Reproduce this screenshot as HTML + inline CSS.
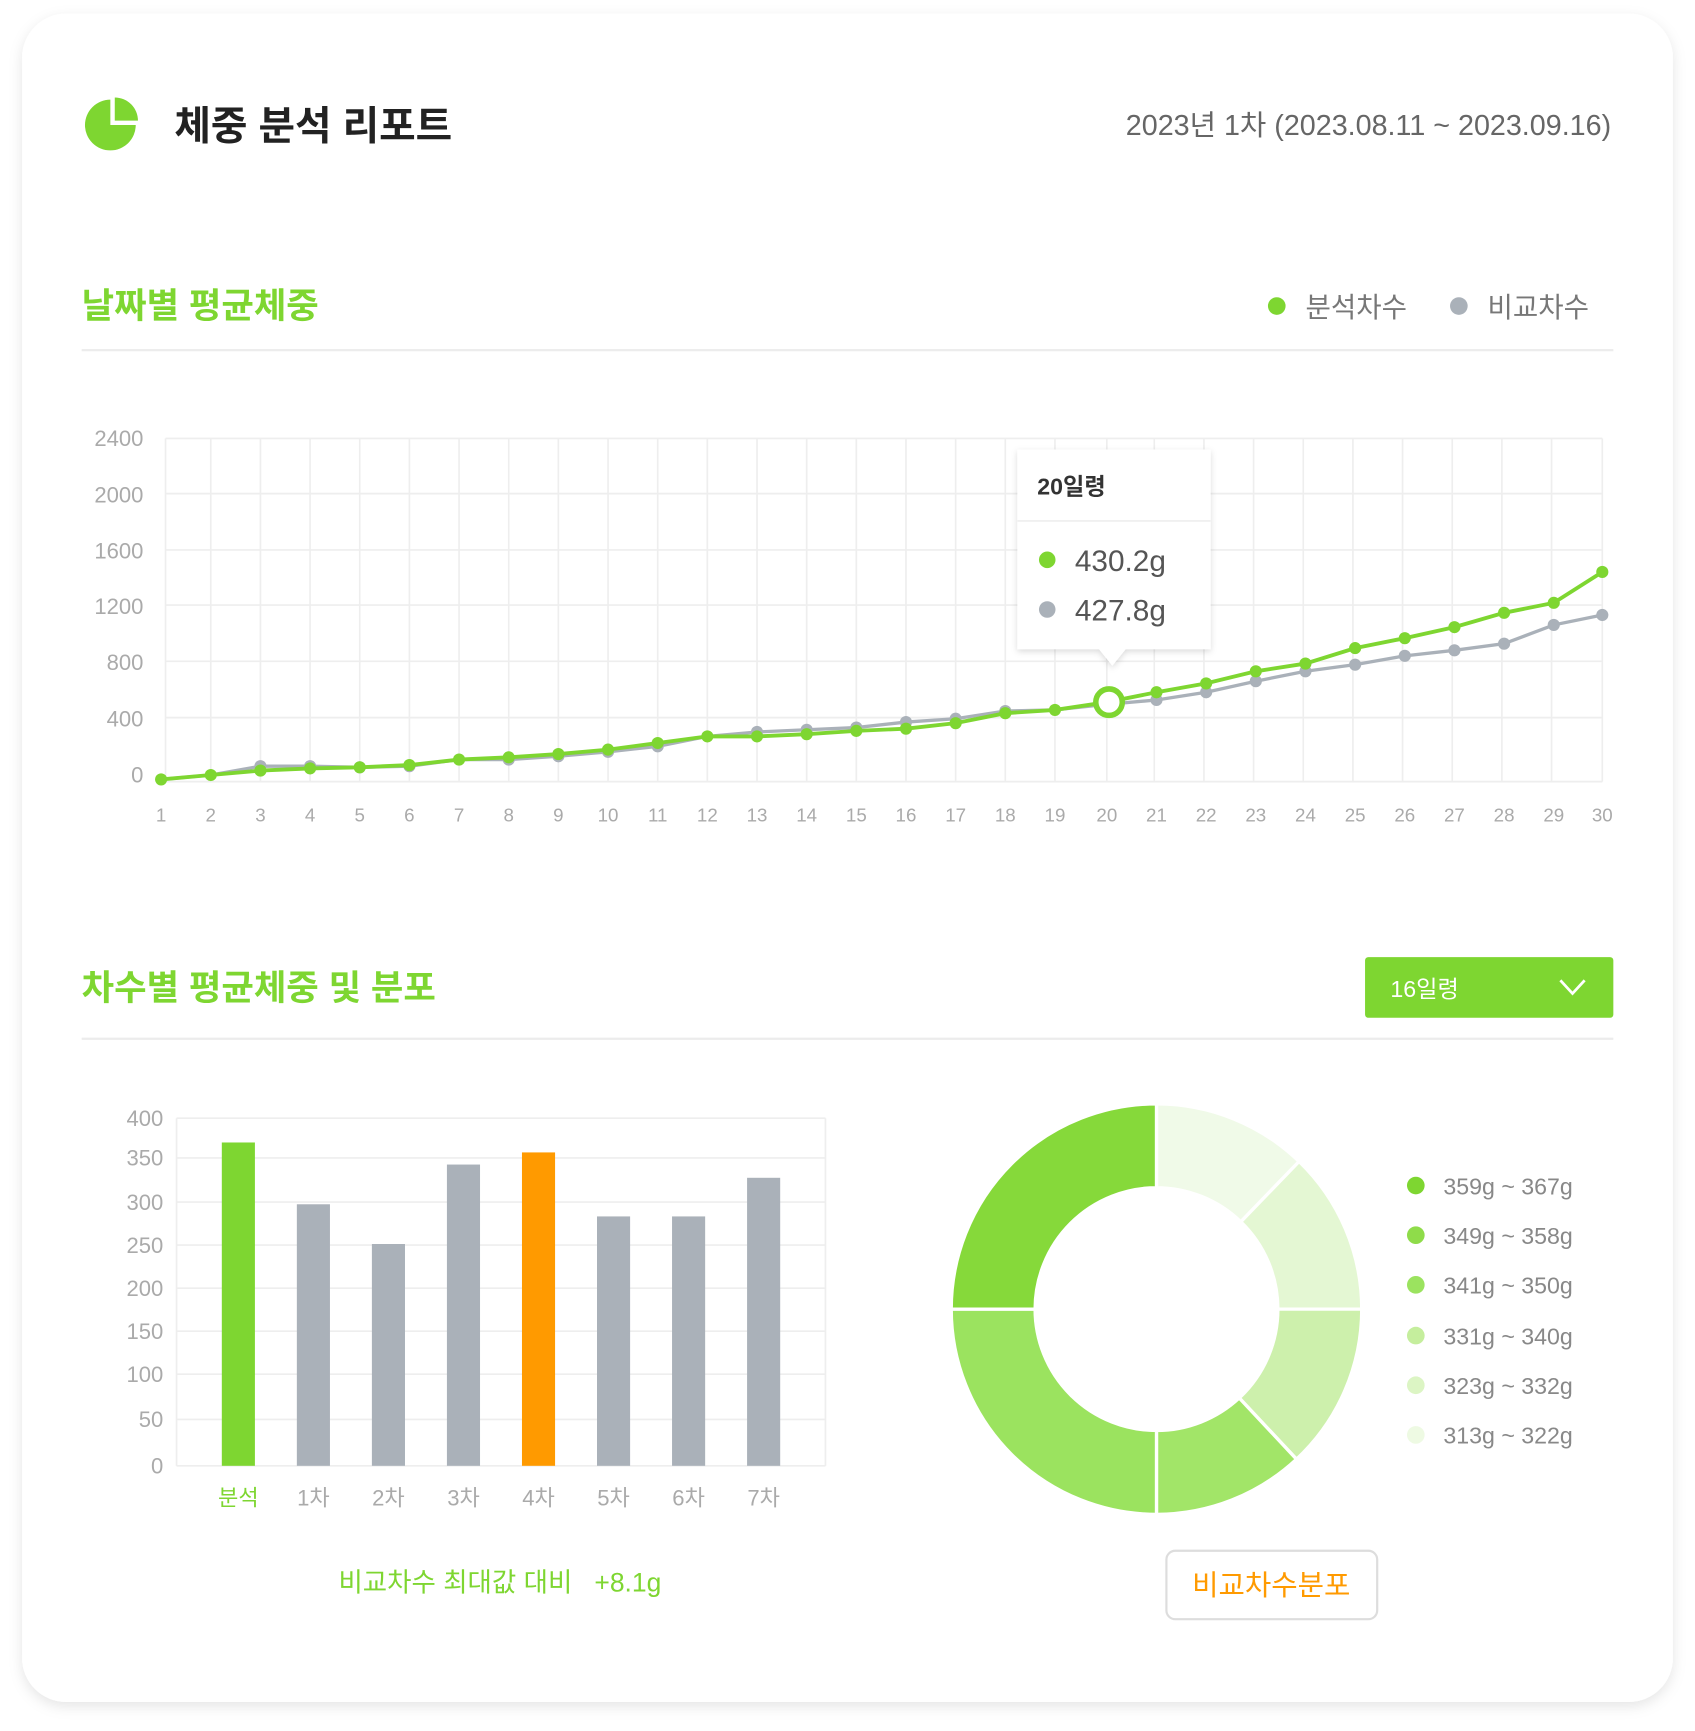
<!DOCTYPE html>
<html><head><meta charset="utf-8">
<style>
html,body{margin:0;padding:0;background:#fff;}
svg{display:block;}
text{font-family:"Liberation Sans","Noto Sans CJK KR",sans-serif;}
</style></head>
<body>
<svg width="1695" height="1731" viewBox="0 0 1536 1568" xmlns="http://www.w3.org/2000/svg">
<defs>
<filter id="sh" x="-5%" y="-5%" width="110%" height="110%"><feDropShadow dx="0" dy="4" stdDeviation="6" flood-color="#000" flood-opacity="0.10"/></filter>
<filter id="sh2" x="-20%" y="-20%" width="140%" height="140%"><feDropShadow dx="0" dy="2" stdDeviation="3" flood-color="#000" flood-opacity="0.15"/></filter>
</defs>
<rect x="20" y="12" width="1496" height="1530" rx="40" fill="#fff" filter="url(#sh)"/>

<!-- header -->
<path d="M100 113 L100 90 A23 23 0 1 0 123 113 Z" fill="#7ed631"/>
<path d="M104 88 L104 109 L125 109 A21 21 0 0 0 104 88 Z" fill="#7ed631"/>
<text x="158" y="126" font-size="36" font-weight="bold" fill="#222">체중 분석 리포트</text>
<text x="1460" y="122" font-size="26" fill="#666" text-anchor="end">2023년 1차 (2023.08.11 ~ 2023.09.16)</text>

<!-- section 1 -->
<text x="74" y="288" font-size="32" font-weight="bold" fill="#7ed631">날짜별 평균체중</text>
<circle cx="1157" cy="277" r="8" fill="#7ed631"/>
<text x="1183" y="287" font-size="25" fill="#777">분석차수</text>
<circle cx="1322" cy="277" r="8" fill="#aab1b9"/>
<text x="1348" y="287" font-size="25" fill="#777">비교차수</text>
<rect x="74" y="316" width="1388" height="2" fill="#ececec"/>

<g stroke="#eeeeee" stroke-width="1.5">
<line x1="150" y1="397" x2="1452" y2="397"/><line x1="150" y1="447" x2="1452" y2="447"/>
<line x1="150" y1="498" x2="1452" y2="498"/><line x1="150" y1="548" x2="1452" y2="548"/>
<line x1="150" y1="599" x2="1452" y2="599"/><line x1="150" y1="650" x2="1452" y2="650"/>
<line x1="150" y1="708" x2="1452" y2="708"/>
<line x1="150" y1="397" x2="150" y2="708"/>
<line x1="191" y1="397" x2="191" y2="708"/><line x1="236" y1="397" x2="236" y2="708"/><line x1="281" y1="397" x2="281" y2="708"/><line x1="326" y1="397" x2="326" y2="708"/><line x1="371" y1="397" x2="371" y2="708"/><line x1="416" y1="397" x2="416" y2="708"/><line x1="461" y1="397" x2="461" y2="708"/><line x1="506" y1="397" x2="506" y2="708"/><line x1="551" y1="397" x2="551" y2="708"/><line x1="596" y1="397" x2="596" y2="708"/><line x1="641" y1="397" x2="641" y2="708"/><line x1="686" y1="397" x2="686" y2="708"/><line x1="731" y1="397" x2="731" y2="708"/><line x1="776" y1="397" x2="776" y2="708"/><line x1="821" y1="397" x2="821" y2="708"/><line x1="866" y1="397" x2="866" y2="708"/><line x1="911" y1="397" x2="911" y2="708"/><line x1="956" y1="397" x2="956" y2="708"/><line x1="1003" y1="397" x2="1003" y2="708"/><line x1="1046" y1="397" x2="1046" y2="708"/><line x1="1091" y1="397" x2="1091" y2="708"/><line x1="1136" y1="397" x2="1136" y2="708"/><line x1="1181" y1="397" x2="1181" y2="708"/><line x1="1226" y1="397" x2="1226" y2="708"/><line x1="1271" y1="397" x2="1271" y2="708"/><line x1="1316" y1="397" x2="1316" y2="708"/><line x1="1361" y1="397" x2="1361" y2="708"/><line x1="1406" y1="397" x2="1406" y2="708"/><line x1="1452" y1="397" x2="1452" y2="708"/>
</g>
<g font-size="20" fill="#aaa" text-anchor="end">
<text x="130" y="404">2400</text><text x="130" y="455">2000</text><text x="130" y="506">1600</text><text x="130" y="556">1200</text><text x="130" y="607">800</text><text x="130" y="658">400</text><text x="130" y="709">0</text>
</g>
<g font-size="17" fill="#aaa" text-anchor="middle">
<text x="146" y="744">1</text><text x="191" y="744">2</text><text x="236" y="744">3</text><text x="281" y="744">4</text><text x="326" y="744">5</text><text x="371" y="744">6</text><text x="416" y="744">7</text><text x="461" y="744">8</text><text x="506" y="744">9</text><text x="551" y="744">10</text><text x="596" y="744">11</text><text x="641" y="744">12</text><text x="686" y="744">13</text><text x="731" y="744">14</text><text x="776" y="744">15</text><text x="821" y="744">16</text><text x="866" y="744">17</text><text x="911" y="744">18</text><text x="956" y="744">19</text><text x="1003" y="744">20</text><text x="1048" y="744">21</text><text x="1093" y="744">22</text><text x="1138" y="744">23</text><text x="1183" y="744">24</text><text x="1228" y="744">25</text><text x="1273" y="744">26</text><text x="1318" y="744">27</text><text x="1363" y="744">28</text><text x="1408" y="744">29</text><text x="1452" y="744">30</text>
</g>

<!-- gray series -->
<g fill="#aab1b9">
<polyline fill="none" stroke="#aab1b9" stroke-width="3" points="146,706 191,702 236,694 281,694 326,695 371,694 416,688 461,688 506,685 551,681 596,676 641,667 686,663 731,661 776,659 821,654 866,651 911,644 956,643 1003,638 1048,634 1093,627 1138,617 1183,608 1228,602 1273,594 1318,589 1363,583 1408,566 1452,557"/>
<circle cx="236" cy="694" r="5.5"/><circle cx="281" cy="694" r="5.5"/><circle cx="326" cy="695" r="5.5"/><circle cx="371" cy="694" r="5.5"/><circle cx="461" cy="688" r="5.5"/><circle cx="506" cy="685" r="5.5"/><circle cx="551" cy="681" r="5.5"/><circle cx="596" cy="676" r="5.5"/><circle cx="686" cy="663" r="5.5"/><circle cx="731" cy="661" r="5.5"/><circle cx="776" cy="659" r="5.5"/><circle cx="821" cy="654" r="5.5"/><circle cx="866" cy="651" r="5.5"/><circle cx="911" cy="644" r="5.5"/><circle cx="1048" cy="634" r="5.5"/><circle cx="1093" cy="627" r="5.5"/><circle cx="1138" cy="617" r="5.5"/><circle cx="1183" cy="608" r="5.5"/><circle cx="1228" cy="602" r="5.5"/><circle cx="1273" cy="594" r="5.5"/><circle cx="1318" cy="589" r="5.5"/><circle cx="1363" cy="583" r="5.5"/><circle cx="1408" cy="566" r="5.5"/><circle cx="1452" cy="557" r="5.5"/>
</g>
<!-- green series -->
<g fill="#7ed631">
<polyline fill="none" stroke="#7ed631" stroke-width="3.5" points="146,706 191,702 236,698 281,696 326,695 371,693 416,688 461,686 506,683 551,679 596,673 641,667 686,667 731,665 776,662 821,660 866,655 911,646 956,643 1003,636 1048,627 1093,619 1138,608 1183,601 1228,587 1273,578 1318,568 1363,555 1408,546 1452,518"/>
<circle cx="146" cy="706" r="5.5"/><circle cx="191" cy="702" r="5.5"/><circle cx="236" cy="698" r="5.5"/><circle cx="281" cy="696" r="5.5"/><circle cx="326" cy="695" r="5.5"/><circle cx="371" cy="693" r="5.5"/><circle cx="416" cy="688" r="5.5"/><circle cx="461" cy="686" r="5.5"/><circle cx="506" cy="683" r="5.5"/><circle cx="551" cy="679" r="5.5"/><circle cx="596" cy="673" r="5.5"/><circle cx="641" cy="667" r="5.5"/><circle cx="686" cy="667" r="5.5"/><circle cx="731" cy="665" r="5.5"/><circle cx="776" cy="662" r="5.5"/><circle cx="821" cy="660" r="5.5"/><circle cx="866" cy="655" r="5.5"/><circle cx="911" cy="646" r="5.5"/><circle cx="956" cy="643" r="5.5"/><circle cx="1048" cy="627" r="5.5"/><circle cx="1093" cy="619" r="5.5"/><circle cx="1138" cy="608" r="5.5"/><circle cx="1183" cy="601" r="5.5"/><circle cx="1228" cy="587" r="5.5"/><circle cx="1273" cy="578" r="5.5"/><circle cx="1318" cy="568" r="5.5"/><circle cx="1363" cy="555" r="5.5"/><circle cx="1408" cy="546" r="5.5"/><circle cx="1452" cy="518" r="5.5"/>
</g>
<circle cx="1005" cy="636" r="12" fill="#fff" stroke="#7ed631" stroke-width="5"/>

<!-- tooltip -->
<g filter="url(#sh2)">
<path d="M922 407 H1097 V588 H1020 L1008 603 L996 588 H922 Z" fill="#fff"/>
</g>
<rect x="922" y="471" width="175" height="1.5" fill="#eee"/>
<text x="940" y="448" font-size="21" font-weight="bold" fill="#333">20일령</text>
<circle cx="949" cy="507" r="7.5" fill="#7ed631"/>
<text x="974" y="517" font-size="27" fill="#555">430.2g</text>
<circle cx="949" cy="552" r="7.5" fill="#aab1b9"/>
<text x="974" y="562" font-size="27" fill="#555">427.8g</text>

<!-- section 2 -->
<text x="74" y="906" font-size="32" font-weight="bold" fill="#7ed631">차수별 평균체중 및 분포</text>
<rect x="1237" y="867" width="225" height="55" rx="3" fill="#7ed631"/>
<text x="1260" y="903" font-size="21" fill="#fff">16일령</text>
<polyline points="1414,888 1425,900 1436,888" fill="none" stroke="#fff" stroke-width="2.5"/>
<rect x="74" y="940" width="1388" height="2" fill="#ececec"/>

<!-- bar chart -->
<g stroke="#eeeeee" stroke-width="1.5">
<line x1="160" y1="1013" x2="748" y2="1013"/><line x1="160" y1="1049" x2="748" y2="1049"/><line x1="160" y1="1089" x2="748" y2="1089"/><line x1="160" y1="1128" x2="748" y2="1128"/><line x1="160" y1="1167" x2="748" y2="1167"/><line x1="160" y1="1206" x2="748" y2="1206"/><line x1="160" y1="1245" x2="748" y2="1245"/><line x1="160" y1="1286" x2="748" y2="1286"/><line x1="160" y1="1328" x2="748" y2="1328"/>
<line x1="160" y1="1013" x2="160" y2="1328"/><line x1="748" y1="1013" x2="748" y2="1328"/>
</g>
<g font-size="20" fill="#aaa" text-anchor="end">
<text x="148" y="1020">400</text><text x="148" y="1056">350</text><text x="148" y="1096">300</text><text x="148" y="1135">250</text><text x="148" y="1174">200</text><text x="148" y="1213">150</text><text x="148" y="1252">100</text><text x="148" y="1293">50</text><text x="148" y="1335">0</text>
</g>
<rect x="201" y="1035" width="30" height="293" fill="#7ed631"/>
<rect x="269" y="1091" width="30" height="237" fill="#aab1b9"/>
<rect x="337" y="1127" width="30" height="201" fill="#aab1b9"/>
<rect x="405" y="1055" width="30" height="273" fill="#aab1b9"/>
<rect x="473" y="1044" width="30" height="284" fill="#ff9a00"/>
<rect x="541" y="1102" width="30" height="226" fill="#aab1b9"/>
<rect x="609" y="1102" width="30" height="226" fill="#aab1b9"/>
<rect x="677" y="1067" width="30" height="261" fill="#aab1b9"/>
<g font-size="20" fill="#aaa" text-anchor="middle">
<text x="216" y="1364" fill="#7ed631">분석</text><text x="284" y="1364">1차</text><text x="352" y="1364">2차</text><text x="420" y="1364">3차</text><text x="488" y="1364">4차</text><text x="556" y="1364">5차</text><text x="624" y="1364">6차</text><text x="692" y="1364">7차</text>
</g>
<text x="453" y="1442" font-size="24" fill="#7ed631" text-anchor="middle" xml:space="preserve">비교차수 최대값 대비   +8.1g</text>

<!-- donut -->
<g stroke="#fff" stroke-width="3">
<path d="M1048 1000 A186 186 0 0 1 1177.2 1052.2 L1124.4 1106.9 A110 110 0 0 0 1048 1076 Z" fill="#f0fae8"/>
<path d="M1177.2 1052.2 A186 186 0 0 1 1234 1186 L1158 1186 A110 110 0 0 0 1124.4 1106.9 Z" fill="#e4f7d3"/>
<path d="M1234 1186 A186 186 0 0 1 1174.9 1322 L1123 1266.5 A110 110 0 0 0 1158 1186 Z" fill="#cdf0ac"/>
<path d="M1174.9 1322 A186 186 0 0 1 1048 1372 L1048 1296 A110 110 0 0 0 1123 1266.5 Z" fill="#a2e568"/>
<path d="M1048 1372 A186 186 0 0 1 862 1186 L938 1186 A110 110 0 0 0 1048 1296 Z" fill="#9be35f"/>
<path d="M862 1186 A186 186 0 0 1 1048 1000 L1048 1076 A110 110 0 0 0 938 1186 Z" fill="#86d93a"/>
</g>
<g font-size="21" fill="#888">
<circle cx="1283" cy="1074" r="8" fill="#7ed631"/><text x="1308" y="1082">359g ~ 367g</text>
<circle cx="1283" cy="1119" r="8" fill="#8fdc4a"/><text x="1308" y="1127">349g ~ 358g</text>
<circle cx="1283" cy="1164" r="8" fill="#9be35f"/><text x="1308" y="1172">341g ~ 350g</text>
<circle cx="1283" cy="1210" r="8" fill="#c5ee9d"/><text x="1308" y="1218">331g ~ 340g</text>
<circle cx="1283" cy="1255" r="8" fill="#dcf5c4"/><text x="1308" y="1263">323g ~ 332g</text>
<circle cx="1283" cy="1300" r="8" fill="#eefae3"/><text x="1308" y="1308">313g ~ 322g</text>
</g>
<rect x="1057" y="1405" width="191" height="62" rx="8" fill="#fff" stroke="#dddddd" stroke-width="2"/>
<text x="1152" y="1445" font-size="26" fill="#ff9a00" text-anchor="middle">비교차수분포</text>
</svg>
</body></html>
